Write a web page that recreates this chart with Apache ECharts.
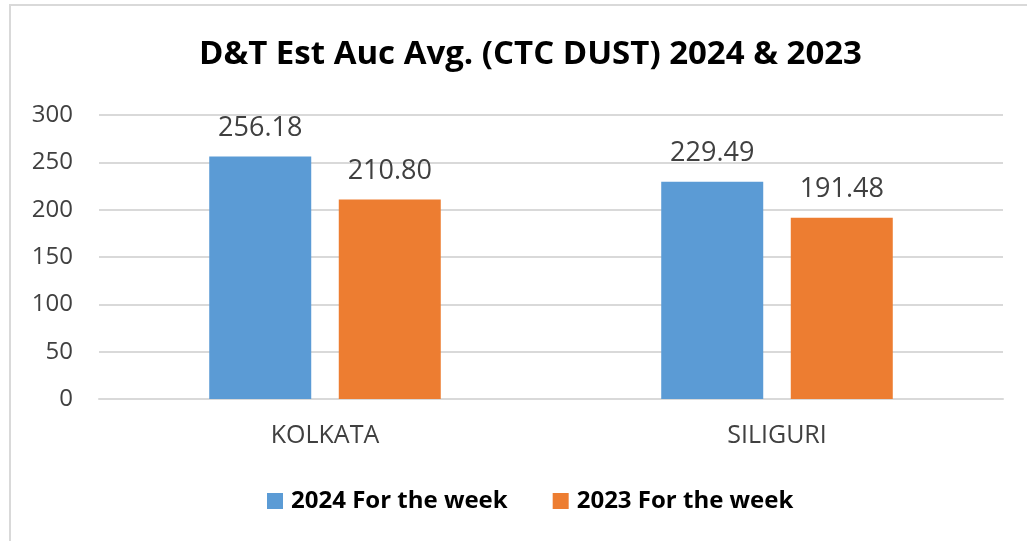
<!doctype html>
<html>
<head>
<meta charset="UTF-8">
<title>D&amp;T Est Auc Avg.</title>
<script src="https://cdn.jsdelivr.net/npm/echarts@6/dist/echarts.min.js"></script>
<style>
  html, body { margin: 0; padding: 0; background: #fff; }
  #frame { position: absolute; left: 9px; top: 4px; width: 1030px; height: 560px;
           border-left: 2px solid #d9d9d9; border-top: 2px solid #d9d9d9; }
  #main { position: absolute; left: 0; top: 0; width: 1027px; height: 541px; }
</style>
</head>
<body>
<div id="frame"></div>
<div id="main"></div>
<script>
// data
var categories = ['KOLKATA', 'SILIGURI'];
var week2024 = [256.18, 229.49];
var week2023 = [210.80, 191.48];
var seriesNames = ['2024 For the week', '2023 For the week'];

var myChart = echarts.init(document.getElementById('main'));
var font = 'Open Sans';

function barLabel() {
    return {
        show: true, position: 'top', distance: 15,
        formatter: function (p) { return p.value.toFixed(2); },
        fontFamily: font, fontSize: 27, color: '#404040'
    };
}

var option = {
    animation: false,
    title: {
        text: 'D&T Est Auc Avg. (CTC DUST) 2024 & 2023',
        left: 194,
        top: 33,
        textStyle: { fontFamily: font, fontSize: 33, fontWeight: 'bold', color: '#000' }
    },
    legend: {
        data: seriesNames,
        top: 484,
        left: 262,
        itemWidth: 16,
        itemHeight: 16,
        itemGap: 45,
        icon: 'rect',
        textStyle: { fontFamily: font, fontSize: 24, fontWeight: 'bold', color: '#000', padding: [0, 0, 0, 3] }
    },
    grid: { left: 99, right: 24, top: 115, bottom: 142 },
    xAxis: {
        type: 'category',
        data: categories,
        axisTick: { show: false },
        axisLine: { lineStyle: { color: '#d9d9d9', width: 2 } },
        axisLabel: { fontFamily: font, fontSize: 25, color: '#404040', margin: 24 }
    },
    yAxis: {
        type: 'value',
        min: 0,
        max: 300,
        interval: 50,
        axisLine: { show: false },
        axisTick: { show: false },
        splitLine: { lineStyle: { color: '#d9d9d9', width: 2 } },
        axisLabel: { fontFamily: font, fontSize: 24, color: '#404040', margin: 26 }
    },
    series: [
        {
            name: seriesNames[0],
            type: 'bar',
            data: week2024,
            barWidth: 102,
            barGap: '27%',
            itemStyle: { color: '#5b9bd5' },
            label: barLabel()
        },
        {
            name: seriesNames[1],
            type: 'bar',
            data: week2023,
            barWidth: 102,
            itemStyle: { color: '#ed7d31' },
            label: barLabel()
        }
    ]
};
myChart.setOption(option);
</script>
</body>
</html>
